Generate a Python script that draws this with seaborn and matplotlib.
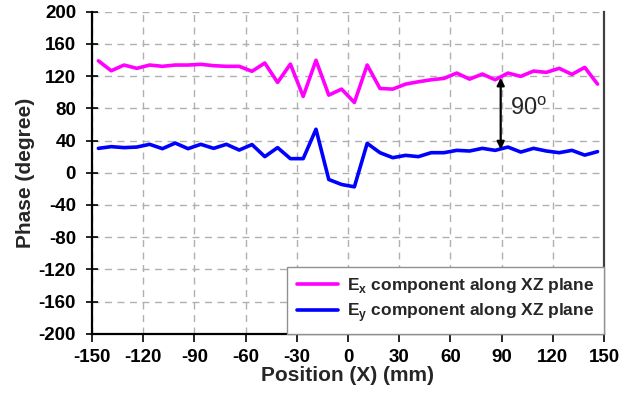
import numpy as np
import pandas as pd
import matplotlib
matplotlib.use('Agg')
import matplotlib.pyplot as plt
import seaborn as sns

# sample positions (mm), centres of 7.5 mm steps
position = [-146.25, -138.75, -131.25, -123.75, -116.25, -108.75, -101.25, -93.75,
            -86.25, -78.75, -71.25, -63.75, -56.25, -48.75, -41.25, -33.75,
            -26.25, -18.75, -11.25, -3.75, 3.75, 11.25, 18.75, 26.25,
            33.75, 41.25, 48.75, 56.25, 63.75, 71.25, 78.75, 86.25,
            93.75, 101.25, 108.75, 116.25, 123.75, 131.25, 138.75, 146.25]

# phase of Ex (degree)
phase_ex = [139, 126.7, 133.8, 129.7, 133.8, 132.2, 133.8, 133.8,
            134.7, 133, 132.2, 132.2, 126, 136.3, 112.2, 135,
            94.8, 139.7, 96.4, 103.9, 87.3, 133.8, 104.7, 103.9,
            110.1, 113, 115.5, 117.2, 123.8, 116.3, 122.6, 115.5,
            123.8, 119.7, 126.3, 124.7, 129.7, 122.2, 130.9, 110.1]

# phase of Ey (degree)
phase_ey = [30.3, 32.4, 31.2, 31.9, 35.3, 29.9, 36.9, 29.9,
            35.3, 30.3, 35.3, 28.2, 35, 20, 31.2, 17.5,
            17.5, 54, -8.4, -14.6, -17.5, 36.5, 24.9, 18.7,
            21.6, 20, 24.9, 24.9, 27.8, 27, 30.3, 27.8,
            31.9, 25.7, 30.3, 27, 24.9, 27.8, 21.9, 26.2]

labels = [r'E$_\mathregular{x}$ component along XZ plane',
          r'E$_\mathregular{y}$ component along XZ plane']
colors = ['#ff00ff', '#0000ff']

x_ticks = [-150, -120, -90, -60, -30, 0, 30, 60, 90, 120, 150]
y_ticks = [-200, -160, -120, -80, -40, 0, 40, 80, 120, 160, 200]

df = pd.DataFrame({
    'Position': position * 2,
    'Phase': phase_ex + phase_ey,
    'Series': [labels[0]] * len(position) + [labels[1]] * len(position),
})

sns.set_style('white')
plt.rcParams['font.family'] = ['Liberation Sans', 'DejaVu Sans']
plt.rcParams['axes.unicode_minus'] = False

fig = plt.figure(figsize=(6.32, 3.97), dpi=100)
ax = fig.add_axes([0.1456, 0.1594, 0.810, 0.811])

sns.lineplot(data=df, x='Position', y='Phase', hue='Series',
             palette=colors, linewidth=2.6, ax=ax, legend=True)

ax.set_xlim(-150, 150)
ax.set_ylim(-200, 200)
ax.set_xticks(x_ticks)
ax.set_yticks(y_ticks)
ax.grid(True, color='#b0b0b0', linestyle=(0, (5, 4)), linewidth=1.0)

ax.tick_params(axis='y', direction='inout', length=9, width=1.2,
               labelsize=13.5, colors='black', left=True, pad=7)
ax.tick_params(axis='x', direction='out', length=6, width=1.2,
               labelsize=13.5, colors='black', bottom=True, pad=5)
for lab in ax.get_xticklabels() + ax.get_yticklabels():
    lab.set_fontweight('bold')

for side in ['left', 'bottom']:
    ax.spines[side].set_color('black')
    ax.spines[side].set_linewidth(1.6)
ax.spines['right'].set_color('#404040')
ax.spines['right'].set_linewidth(1.6)
ax.spines['top'].set_visible(False)

ax.set_xlabel('Position (X) (mm)', fontsize=15, fontweight='bold', labelpad=0)
ax.set_ylabel('Phase (degree)', fontsize=15, fontweight='bold', labelpad=3)

leg = ax.legend(loc='lower right', bbox_to_anchor=(1.0, 0.0), frameon=True,
                fancybox=False, framealpha=1, edgecolor='#909090',
                prop={'family': 'Liberation Sans', 'weight': 'bold', 'size': 12.5},
                handlelength=2.4, borderpad=0.55, labelspacing=0.35,
                handletextpad=0.5, borderaxespad=0.0)
leg.get_frame().set_linewidth(1.0)

# 90 degree annotation
ax.annotate('', xy=(89.5, 118), xytext=(89.5, 29),
            arrowprops=dict(arrowstyle='<|-|>', color='black', lw=1.6,
                            mutation_scale=11, shrinkA=0, shrinkB=0))
ax.text(95, 80, r'90$^\mathregular{o}$', fontsize=17, va='center', ha='left',
        family='Liberation Sans')

fig.savefig('out.png', dpi=100)
